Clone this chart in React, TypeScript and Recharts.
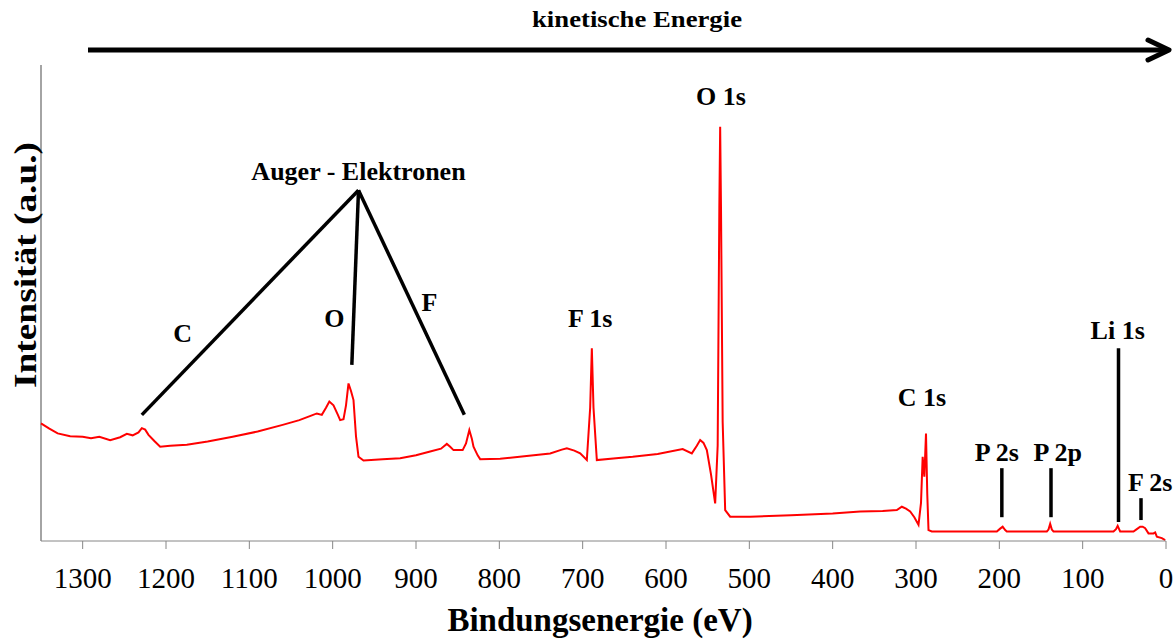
import {
  LineChart,
  Line,
  XAxis,
  YAxis,
  ReferenceLine,
  ReferenceDot,
} from 'recharts'

const serif = '"Liberation Serif", "Times New Roman", serif'

// binding energy (eV) and intensity (a.u., 0-100 of the plot height)
const bindingEnergy = [
  1350, 1340, 1330, 1315, 1300, 1290, 1280, 1267, 1255, 1247, 1240, 1233, 1229, 1225, 1221, 1214,
  1207, 1195, 1175, 1150, 1120, 1090, 1060, 1040, 1025, 1019, 1013, 1008, 1004, 999, 994, 991,
  987, 984, 981, 978, 975, 972, 969, 963, 940, 919, 900, 883, 870, 863, 859, 855,
  844, 840, 836, 833, 831, 826, 823, 799, 770, 739, 725, 719, 710, 703, 695, 691,
  689, 687, 683, 660, 640, 610, 580, 569, 563, 559, 555, 551, 546, 541, 538, 536,
  535, 534, 532, 529, 523, 499, 450, 400, 367, 340, 323, 317, 312, 307, 302, 297,
  294, 292, 290, 288, 286.5, 285, 281, 250, 203, 199, 196, 193, 191, 143, 141, 139,
  137, 135, 63, 60, 58, 56, 55, 39, 35, 31, 28, 25, 21, 15, 13, 11,
  5, 1,
]
const intensity = [
  24.7, 23.6, 22.6, 22.0, 21.9, 21.6, 21.9, 21.2, 21.8, 22.5, 22.2, 22.8, 23.7, 23.4, 22.3, 21.0,
  19.8, 20.0, 20.2, 20.9, 21.9, 23.0, 24.4, 25.4, 26.4, 26.8, 26.5, 28.0, 29.3, 28.5, 26.6, 25.4,
  25.6, 28.5, 33.1, 31.5, 29.6, 22.0, 17.7, 16.9, 17.2, 17.4, 18.0, 18.8, 19.4, 20.4, 19.8, 19.1,
  19.1, 20.5, 23.3, 21.5, 19.8, 18.0, 17.2, 17.3, 17.8, 18.4, 19.2, 19.5, 19.0, 18.4, 17.0, 28.0,
  40.5, 28.0, 17.0, 17.4, 17.7, 18.3, 19.3, 18.4, 20.0, 21.2, 20.6, 19.1, 14.0, 7.9, 20.0, 70.0,
  87.0, 70.0, 25.0, 6.5, 5.1, 5.1, 5.4, 5.8, 6.2, 6.3, 6.5, 7.2, 6.8, 6.2, 5.0, 3.4,
  8.0, 17.7, 13.5, 22.6, 10.0, 2.3, 2.0, 2.0, 2.0, 2.6, 3.0, 2.3, 2.0, 2.0, 2.4, 3.6,
  2.4, 2.0, 2.0, 2.5, 3.2, 2.4, 2.0, 2.0, 2.5, 3.0, 3.0, 2.7, 1.6, 1.6, 1.8, 0.9,
  0.6, 0.2,
]

const xTicks = [1300, 1200, 1100, 1000, 900, 800, 700, 600, 500, 400, 300, 200, 100, 0]

const peakLabels = [
  { text: 'Auger - Elektronen', ev: 969, y: 77.7 },
  { text: 'C', ev: 1180, y: 43.7 },
  { text: 'O', ev: 998, y: 46.8 },
  { text: 'F', ev: 884, y: 50.2 },
  { text: 'F 1s', ev: 691, y: 46.8 },
  { text: 'O 1s', ev: 534, y: 93.5 },
  { text: 'C 1s', ev: 293, y: 30.3 },
  { text: 'P 2s', ev: 203, y: 18.8 },
  { text: 'P 2p', ev: 130, y: 18.8 },
  { text: 'Li 1s', ev: 58, y: 44.3 },
  { text: 'F 2s', ev: 19, y: 12.4 },
]

// marker lines: [ev1, y1, ev2, y2]
const markers = [
  [969, 73.7, 1229, 26.5],
  [969, 73.7, 977, 37.0],
  [969, 73.7, 842, 26.5],
  [197, 15.3, 197, 5.0],
  [138, 15.3, 138, 5.0],
  [57, 40.5, 57, 4.0],
  [30, 9.0, 30, 4.4],
]

const data = bindingEnergy.map((ev, i) => ({ ev, counts: intensity[i] }))

export default function App() {
  return (
    <div style={{ position: 'absolute', left: 0, top: 0, width: 1175, height: 640, background: '#fff' }}>
      <LineChart
        width={1175}
        height={640}
        data={data}
        margin={{ top: 65, right: 9, bottom: 39, left: 41 }}
      >
        <XAxis
          dataKey="ev"
          type="number"
          domain={[0, 1350]}
          reversed
          ticks={xTicks}
          interval={0}
          height={60}
          tickSize={8}
          tickMargin={18}
          stroke="#868686"
          tick={{ fill: '#000', fontSize: 29, fontFamily: serif }}
        />
        <YAxis type="number" domain={[0, 100]} hide />
        <ReferenceLine x={1350} stroke="#868686" strokeWidth={1.5} ifOverflow="visible" />
        <Line
          type="linear"
          dataKey="counts"
          stroke="#ff0000"
          strokeWidth={2}
          dot={false}
          isAnimationActive={false}
        />
        {markers.map((m, i) => (
          <ReferenceLine
            key={'m' + i}
            segment={[{ x: m[0], y: m[1] }, { x: m[2], y: m[3] }]}
            stroke="#000"
            strokeWidth={3.5}
            ifOverflow="visible"
          />
        ))}
        {peakLabels.map((p) => (
          <ReferenceDot
            key={p.text}
            x={p.ev}
            y={p.y}
            r={0}
            fill="none"
            stroke="none"
            ifOverflow="visible"
            label={{
              value: p.text,
              position: 'center',
              fill: '#000',
              fontSize: 26,
              fontWeight: 'bold',
              fontFamily: serif,
            }}
          />
        ))}
      </LineChart>
      <svg
        width={1175}
        height={640}
        style={{ position: 'absolute', left: 0, top: 0, pointerEvents: 'none' }}
      >
        <text
          x={637}
          y={27}
          textAnchor="middle"
          fontFamily={serif}
          fontWeight="bold"
          fontSize={23}
          textLength={210}
          lengthAdjust="spacingAndGlyphs"
        >
          kinetische Energie
        </text>
        <line x1={88} y1={50} x2={1166} y2={50} stroke="#000" strokeWidth={5} />
        <polyline
          points="1148,40 1169,50 1148,60"
          fill="none"
          stroke="#000"
          strokeWidth={5}
          strokeLinecap="round"
          strokeLinejoin="round"
        />
        <text x={600} y={631} textAnchor="middle" fontFamily={serif} fontWeight="bold" fontSize={33}>
          Bindungsenergie (eV)
        </text>
        <text
          transform="translate(36 265) rotate(-90)"
          textAnchor="middle"
          fontFamily={serif}
          fontWeight="bold"
          fontSize={32}
          textLength={246}
          lengthAdjust="spacingAndGlyphs"
        >
          Intensität (a.u.)
        </text>
      </svg>
    </div>
  )
}
